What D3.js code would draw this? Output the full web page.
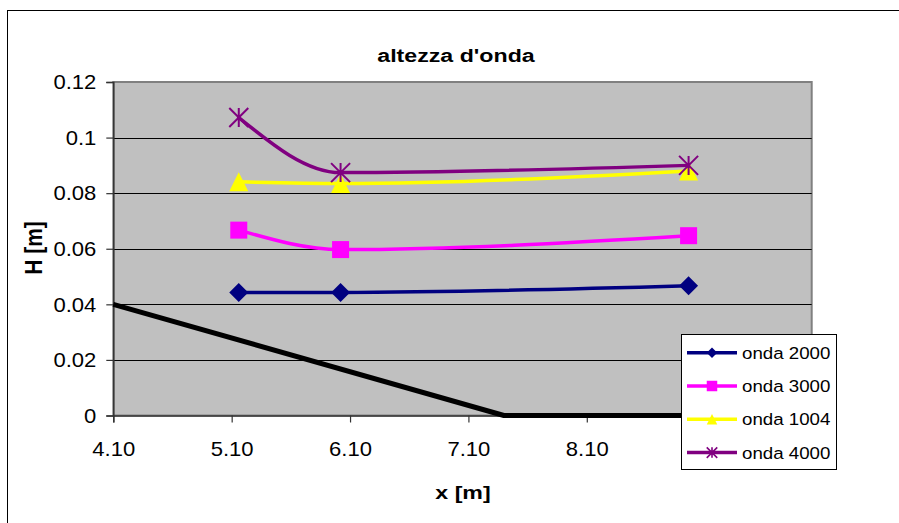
<!DOCTYPE html>
<html>
<head>
<meta charset="utf-8">
<script src="https://cdn.jsdelivr.net/npm/d3@7"></script>
<style>
  html, body { margin: 0; padding: 0; background: #fff; }
  svg { display: block; }
  text { font-family: "Liberation Sans", Arial, sans-serif; fill: #000; }
</style>
</head>
<body>
<svg id="chart" width="899" height="523"></svg>
<script>
// Wave height measurements along the flume
const xTicks = [4.1, 5.1, 6.1, 7.1, 8.1, 9.1];
const yTicks = [0, 0.02, 0.04, 0.06, 0.08, 0.1, 0.12];
const stations = [5.16, 6.02, 8.96];
const onda2000 = [0.0443, 0.0443, 0.0467];
const onda3000 = [0.0667, 0.0597, 0.0647];
const onda1004 = [0.0841, 0.0835, 0.0880];
const onda4000 = [0.1072, 0.0874, 0.0900];
// Bottom profile (slope, then flat bed)
const bedX = [4.1, 7.4, 10.0];
const bedY = [0.04, 0, 0];

const seriesNames = ["onda 2000", "onda 3000", "onda 1004", "onda 4000"];
const seriesValues = [onda2000, onda3000, onda1004, onda4000];
const seriesColors = ["#000080", "#FF00FF", "#FFFF00", "#800080"];
const seriesMarkers = ["diamond", "square", "triangle", "star"];

const svg = d3.select("#chart");
const SX = 1.22;   // horizontal stretch for titles
const TX = 1.05;   // horizontal stretch for tick labels

const x = d3.scaleLinear().domain([4.1, 10.0]).range([113.3, 811.7]);
const y = d3.scaleLinear().domain([0, 0.12]).range([415.5, 82]);

// Outer chart frame
svg.append("rect").attr("x", 7.5).attr("y", 10.5).attr("width", 900).attr("height", 520)
  .attr("fill", "#fff").attr("stroke", "#000").attr("stroke-width", 1);

// Plot area
svg.append("rect")
  .attr("x", x(4.1)).attr("y", y(0.12))
  .attr("width", x(10.0) - x(4.1)).attr("height", y(0) - y(0.12))
  .attr("fill", "#C0C0C0").attr("stroke", "#808080").attr("stroke-width", 2);

// Horizontal gridlines
svg.append("g").selectAll("line").data(yTicks.filter(v => v > 0 && v < 0.12)).join("line")
  .attr("x1", x(4.1)).attr("x2", x(10.0))
  .attr("y1", d => Math.round(y(d)) + 0.5).attr("y2", d => Math.round(y(d)) + 0.5)
  .attr("stroke", "#000").attr("stroke-width", 1);

// Y axis
const yAxis = d3.axisLeft(y).tickValues(yTicks).tickSize(7).tickPadding(10)
  .tickFormat(d => d3.format("~g")(d));
const gy = svg.append("g").attr("transform", `translate(${x(4.1)},0)`).call(yAxis);
gy.select(".domain").attr("stroke", "#333").attr("stroke-width", 1.5);
gy.selectAll(".tick line").attr("stroke", "#333").attr("stroke-width", 1.2);
gy.selectAll(".tick text")
  .attr("font-size", 21).attr("font-family", "Liberation Sans, Arial, sans-serif")
  .attr("fill", "#000").attr("x", 0)
  .attr("transform", `translate(-17,0) scale(${TX},1)`);

// X axis
const xAxis = d3.axisBottom(x).tickValues(xTicks).tickSize(7).tickPadding(19)
  .tickFormat(d3.format(".2f"));
const gx = svg.append("g").attr("transform", `translate(0,${y(0)})`).call(xAxis);
gx.select(".domain").attr("stroke", "#333").attr("stroke-width", 1.5);
gx.selectAll(".tick line").attr("stroke", "#333").attr("stroke-width", 1.2);
gx.selectAll(".tick text")
  .attr("font-size", 21).attr("font-family", "Liberation Sans, Arial, sans-serif")
  .attr("fill", "#000")
  .attr("transform", `scale(${TX},1)`);

// Bottom profile line
const bed = bedX.map((v, i) => [v, bedY[i]]);
svg.append("path")
  .attr("d", d3.line().x(d => x(d[0])).y(d => y(d[1]))(bed))
  .attr("fill", "none").attr("stroke", "#000").attr("stroke-width", 5)
  .attr("stroke-linejoin", "round");

// Marker shapes
function markerPath(kind, s) {
  const h = s / 2;
  if (kind === "diamond") return `M0,${-h}L${h},0L0,${h}L${-h},0Z`;
  if (kind === "square") return `M${-h},${-h}H${h}V${h}H${-h}Z`;
  if (kind === "triangle") return `M0,${-h}L${h},${h}L${-h},${h}Z`;
  // star: X with a vertical bar
  return `M${-h},${-h}L${h},${h}M${h},${-h}L${-h},${h}M0,${-h}V${h}`;
}
function drawMarker(g, kind, color, cx, cy, s) {
  const p = g.append("path").attr("transform", `translate(${cx},${cy})`).attr("d", markerPath(kind, s));
  if (kind === "star") p.attr("fill", "none").attr("stroke", color).attr("stroke-width", s > 12 ? 2 : 1.6);
  else p.attr("fill", color).attr("stroke", "none");
}

const smooth = d3.line().curve(d3.curveMonotoneX).x(d => x(d[0])).y(d => y(d[1]));
seriesValues.forEach((vals, i) => {
  const g = svg.append("g");
  const pts = stations.map((s, j) => [s, vals[j]]);
  g.append("path").attr("d", smooth(pts))
    .attr("fill", "none").attr("stroke", seriesColors[i]).attr("stroke-width", 3.5)
    .attr("stroke-linecap", "round");
  pts.forEach(p => drawMarker(g, seriesMarkers[i], seriesColors[i], x(p[0]), y(p[1]),
    seriesMarkers[i] === "square" ? 17 : 19));
});

// Title and axis titles
svg.append("text").attr("transform", `translate(456,62) scale(${SX},1)`)
  .attr("text-anchor", "middle").attr("font-weight", "bold").attr("font-size", 19)
  .text("altezza d'onda");
svg.append("text").attr("transform", `translate(463,499) scale(${SX},1)`)
  .attr("text-anchor", "middle").attr("font-weight", "bold").attr("font-size", 19)
  .text("x [m]");
svg.append("text").attr("transform", `translate(42,248) rotate(-90) scale(1.1,${SX})`)
  .attr("text-anchor", "middle").attr("font-weight", "bold").attr("font-size", 19)
  .text("H [m]");

// Legend
const lg = svg.append("g");
lg.append("rect").attr("x", 681.5).attr("y", 334.5).attr("width", 155).attr("height", 135)
  .attr("fill", "#fff").attr("stroke", "#000").attr("stroke-width", 1);
seriesNames.forEach((name, i) => {
  const cy = 352.7 + i * 33.3;
  lg.append("line").attr("x1", 687).attr("x2", 737).attr("y1", cy).attr("y2", cy)
    .attr("stroke", seriesColors[i]).attr("stroke-width", 3.5);
  drawMarker(lg, seriesMarkers[i], seriesColors[i], 712, cy, 10.5);
  lg.append("text").attr("transform", `translate(742,${cy + 6}) scale(1.1,1)`)
    .attr("font-size", 17).text(name);
});
</script>
</body>
</html>
